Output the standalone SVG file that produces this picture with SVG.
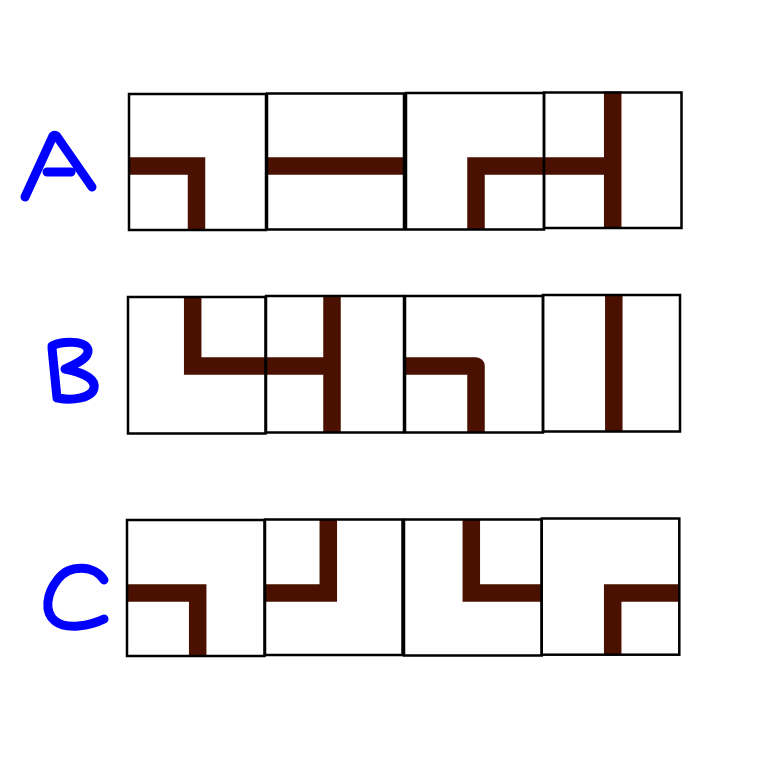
<svg xmlns="http://www.w3.org/2000/svg" width="768" height="768" viewBox="0 0 768 768">
<style>
.box{fill:none;stroke:#000;stroke-width:2.5}
.bar{fill:none;stroke:#4a1000;stroke-width:17.5;stroke-linejoin:miter;stroke-linecap:butt}
.lbl{fill:none;stroke:#0000ff;stroke-width:9;stroke-linecap:round;stroke-linejoin:round}
</style>
<rect width="768" height="768" fill="#fff"/>
<g id="label-A"><path class="lbl" d="M25,197 L53,136 Q56,134 58,138 L92,187 M47,172 L71,172"/></g>
<g id="label-B"><path class="lbl" d="M52,348 L57,398 M52,346 C62,341 86,340 88,350 C89,360 72,365 65,369 C80,372 96,378 94,388 C92,398 72,401 58,398"/></g>
<g id="label-C"><path class="lbl" d="M104,580 C95,565 70,564 58,579 C46,594 44,612 55,621 C66,630 90,626 104,619"/></g>

<g id="A1"><path class="bar" d="M129,166 H196.5 V230"/><rect class="box" x="129" y="94" width="137" height="136"/></g>
<g id="A2"><path class="bar" d="M267,166 H404"/><rect class="box" x="267" y="93.5" width="137" height="136"/></g>
<g id="A3"><path class="bar" d="M544,166 H476 V230"/><rect class="box" x="406" y="93" width="138" height="136.5"/></g>
<g id="A4"><path class="bar" d="M544,166 H612.7 M612.7,91.5 V229"/><rect class="box" x="544" y="92.5" width="137.5" height="135.5"/></g>

<g id="B1"><path class="bar" d="M192.7,297 V366 H266"/><rect class="box" x="128" y="297" width="137.5" height="136.5"/></g>
<g id="B2"><path class="bar" d="M266,366 H332 M332,296 V432"/><rect class="box" x="266" y="296" width="138" height="136.5"/></g>
<g id="B3"><path class="bar" d="M405,366 H476 V432" style="stroke-linejoin:round"/><rect class="box" x="405" y="296" width="138" height="136.5"/></g>
<g id="B4"><path class="bar" d="M613.8,295 V432"/><rect class="box" x="543" y="295" width="137" height="136.5"/></g>

<g id="C1"><path class="bar" d="M127,593 H197.7 V656"/><rect class="box" x="127" y="520" width="137.5" height="136"/></g>
<g id="C2"><path class="bar" d="M265,593 H328.3 V520"/><rect class="box" x="265" y="519.5" width="137.5" height="135.5"/></g>
<g id="C3"><path class="bar" d="M471.3,520 V593 H541.5"/><rect class="box" x="404" y="519.5" width="137.7" height="136"/></g>
<g id="C4"><path class="bar" d="M679,593 H612.7 V655"/><rect class="box" x="541.7" y="518.5" width="137.6" height="136.2"/></g>
</svg>
